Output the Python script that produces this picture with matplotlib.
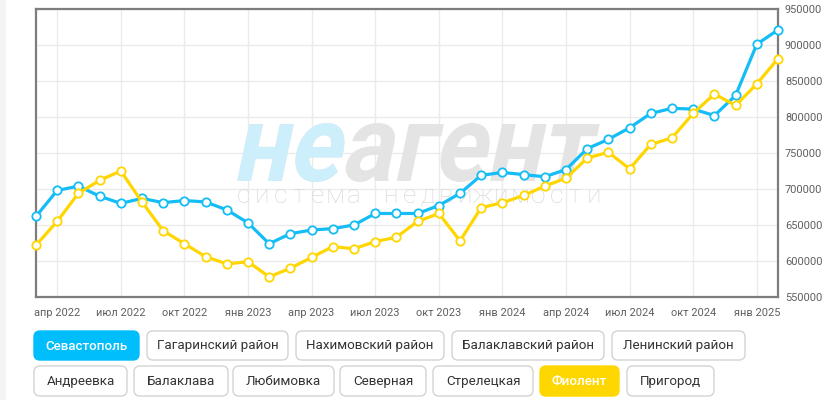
import matplotlib
matplotlib.use("Agg")
import matplotlib.pyplot as plt
from matplotlib.patches import FancyBboxPatch, PathPatch, Rectangle
from matplotlib.textpath import TextPath
from matplotlib.font_manager import FontProperties
from matplotlib.transforms import Affine2D
import numpy as np

plt.rcParams['font.family'] = ['Roboto', 'DejaVu Sans']

# monthly average price per m2, March 2022 .. February 2025
tick_labels = ["апр 2022", "июл 2022", "окт 2022", "янв 2023", "апр 2023", "июл 2023",
               "окт 2023", "янв 2024", "апр 2024", "июл 2024", "окт 2024", "янв 2025"]
sevastopol = [662000, 698000, 704000, 690000, 680000, 687000, 681000, 684000, 682000, 671000,
              653000, 624000, 638000, 643000, 645000, 650000, 666000, 666000, 666000, 677000,
              694000, 719000, 723000, 720000, 717000, 727000, 756000, 769000, 785000, 805000,
              812000, 811000, 802000, 830000, 901000, 921000]
fiolent = [622000, 655000, 694000, 712000, 725000, 682000, 642000, 624000, 606000, 596000,
           599000, 578000, 590000, 605000, 620000, 617000, 627000, 633000, 655000, 666000,
           628000, 674000, 681000, 691000, 704000, 715000, 743000, 751000, 728000, 762000,
           771000, 805000, 832000, 816000, 846000, 881000]
y_ticks = [550000, 600000, 650000, 700000, 750000, 800000, 850000, 900000, 950000]

row1 = ["Севастополь", "Гагаринский район", "Нахимовский район", "Балаклавский район", "Ленинский район"]
row2 = ["Андреевка", "Балаклава", "Любимовка", "Северная", "Стрелецкая", "Фиолент", "Пригород"]
active = {"Севастополь": "#00bdfc", "Фиолент": "#ffd700"}

BLUE = "#14bdf5"
YELLOW = "#ffd600"
W, H = 830, 400

fig = plt.figure(figsize=(W / 100, H / 100), dpi=100)
fig.patch.set_facecolor("white")

# background layer in pixel units (for buttons)
bg = fig.add_axes([0, 0, 1, 1])
bg.set_xlim(0, W)
bg.set_ylim(H, 0)
bg.axis("off")
bg.add_patch(Rectangle((0, 0), 6, H, color="#f3f4f6", lw=0))

# chart axes: x 36..778, y 9..297 in picture pixels
ax = fig.add_axes([36 / W, (H - 297) / H, 742 / W, 288 / H])
x = np.arange(len(sevastopol))
ax.set_xlim(0, len(sevastopol) - 1)
ax.set_ylim(550000, 950000)
ax.set_xticks(np.arange(1, len(sevastopol), 3))
ax.set_xticklabels(tick_labels)
ax.set_yticks(y_ticks)
ax.set_yticklabels([str(v) for v in y_ticks])
ax.yaxis.tick_right()
ax.tick_params(axis="both", length=0, labelsize=7.9, colors="#5f5f5f")
ax.tick_params(axis="x", pad=8)
ax.tick_params(axis="y", pad=5)
ax.grid(True, color="#ebebeb", lw=1)
ax.set_axisbelow(True)
for s in ax.spines.values():
    s.set_color("#7d7d7d")
    s.set_linewidth(1.6)

# watermark
fp = FontProperties(family="Roboto", weight="bold")
tp_full = TextPath((0, 0), "неагент", size=100, prop=fp)
tp_ne = TextPath((0, 0), "не", size=100, prop=fp)
bb = tp_full.get_extents()
h_px = 59
skew = 12
sy = h_px / bb.height
sx = (363 - h_px * np.tan(np.radians(skew))) / bb.width
tr = Affine2D().translate(-bb.x0, -bb.y0).scale(sx, sy).skew_deg(skew, 0).translate(237, H - 182)
for tp, col in [(tp_full, "#e4e4e4"), (tp_ne, "#cdeefb")]:
    p = PathPatch(tp, facecolor=col, edgecolor="none", zorder=1.5)
    p.set_transform(tr)
    p.set_clip_on(False)
    ax.add_artist(p)

slogan = "система недвижимости"
xs = np.linspace(243.5, 593.5, len(slogan))
for ch, cx in zip(slogan, xs):
    ax.text(cx / W, 1 - 196 / H, ch, transform=fig.transFigure, ha="center", va="center",
            fontsize=19, fontweight="light", color="#dadada", zorder=1.6)

ax.plot(x, sevastopol, color=BLUE, lw=2.3, marker="o", ms=6, mfc="white", mec=BLUE,
        mew=1.3, zorder=3, clip_on=False)
ax.plot(x, fiolent, color=YELLOW, lw=2.3, marker="o", ms=6, mfc="white", mec=YELLOW,
        mew=1.3, zorder=4, clip_on=False)

# buttons
row1_x = [(34, 139), (147, 288), (296, 444), (452, 604), (612, 745)]
row2_x = [(34, 127), (134, 228), (233, 334), (340, 426), (433, 533), (540, 619), (627, 714)]
for names, xs_, (y0, y1) in [(row1, row1_x, (331, 360)), (row2, row2_x, (366, 396))]:
    for name, (x0, x1) in zip(names, xs_):
        fill = active.get(name)
        box = FancyBboxPatch((x0, y0), x1 - x0, y1 - y0,
                             boxstyle="round,pad=0,rounding_size=6",
                             facecolor=fill if fill else "white",
                             edgecolor=fill if fill else "#d3d3d3", lw=1)
        bg.add_patch(box)
        bg.text((x0 + x1) / 2, (y0 + y1) / 2 + 0.5, name, ha="center", va="center",
                fontsize=9.6, color="white" if fill else "#333333",
                fontweight="medium" if fill else "normal")

fig.savefig("out.png", dpi=100)
